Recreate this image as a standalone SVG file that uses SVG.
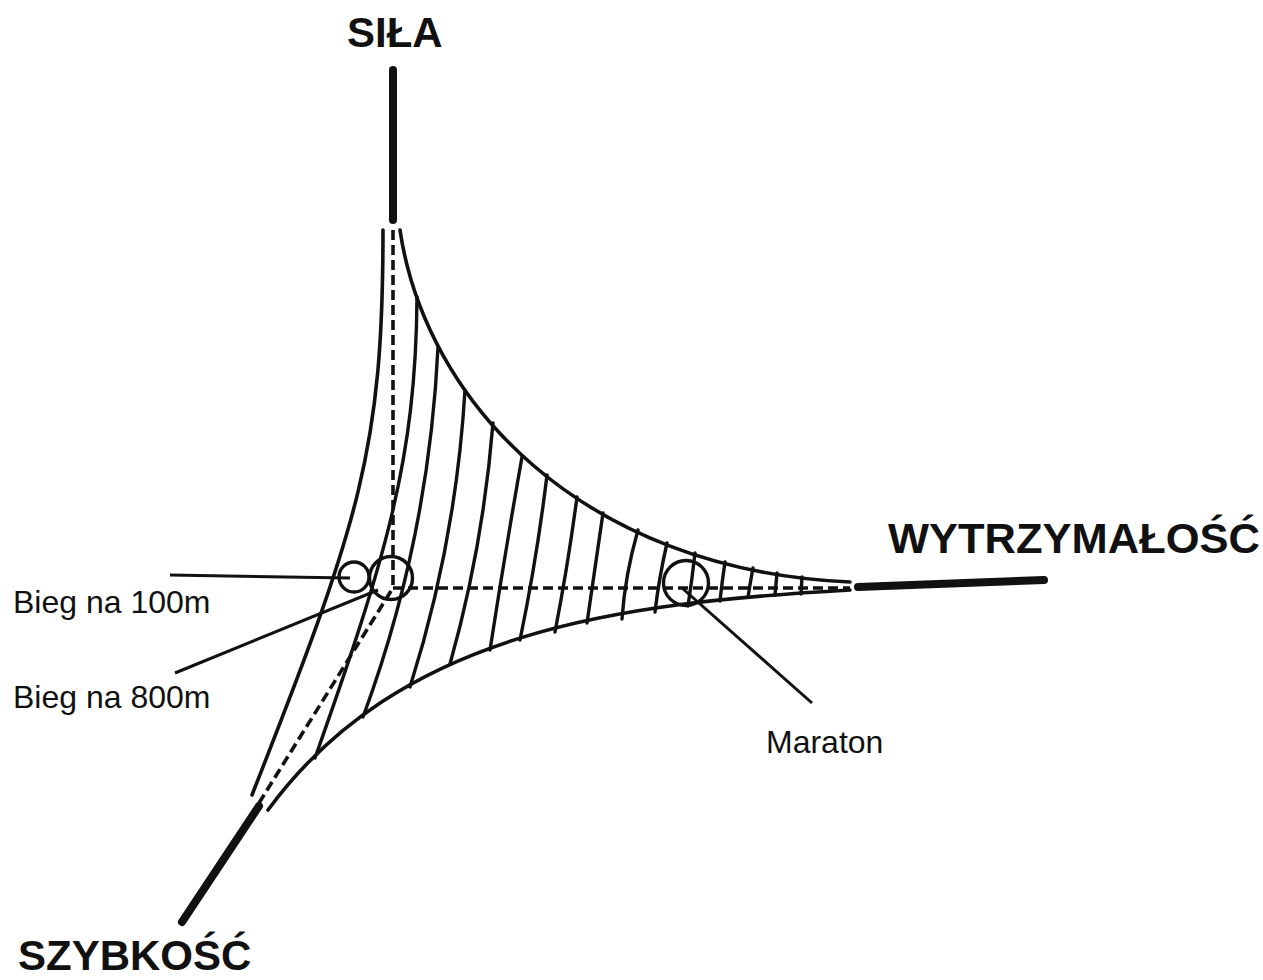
<svg xmlns="http://www.w3.org/2000/svg" width="1263" height="980" viewBox="0 0 1263 980">
  <style>
    .edge { fill: none; stroke: #111; stroke-width: 3.6; stroke-linecap: round; }
    .hatch { fill: none; stroke: #111; stroke-width: 3.4; stroke-linecap: round; }
    .dash { fill: none; stroke: #111; stroke-width: 3.6; stroke-dasharray: 10 5; }
    .axis { fill: none; stroke: #111; stroke-width: 8; stroke-linecap: round; }
    .ring { fill: none; stroke: #111; stroke-width: 3.4; }
    .lead { fill: none; stroke: #111; stroke-width: 3; }
    .title { font-family: "Liberation Sans", Arial, sans-serif; font-weight: bold; font-size: 42px; fill: #111; }
    .label { font-family: "Liberation Sans", Arial, sans-serif; font-size: 32px; fill: #111; }
  </style>
  <rect width="1263" height="980" fill="#fff"/>

  <!-- three axes -->
  <g id="axis-sila">
    <line class="axis" x1="393" y1="70" x2="393" y2="220"/>
    <text class="title" x="347" y="47">SIŁA</text>
  </g>
  <g id="axis-wytrzymalosc">
    <line class="axis" x1="858" y1="587" x2="1044" y2="580"/>
    <text class="title" x="888" y="553" textLength="372" lengthAdjust="spacingAndGlyphs">WYTRZYMAŁOŚĆ</text>
  </g>
  <g id="axis-szybkosc">
    <line class="axis" x1="259" y1="806" x2="182" y2="922"/>
    <text class="title" x="18" y="970">SZYBKOŚĆ</text>
  </g>

  <!-- curved triangle -->
  <g id="region">
    <path class="edge" d="M383,230 C383,450 360,520 252,795"/>
    <path class="edge" d="M400,230 C425,400 580,570 850,582"/>
    <path class="edge" d="M850,590 C620,603 400,630 268,810"/>
  </g>

  <!-- hatching -->
  <g id="hatching">
    <path class="hatch" d="M417,297 C416,460 385,560 315,758"/>
    <path class="hatch" d="M438,347 Q429,539 363,717"/>
    <path class="hatch" d="M465,390 Q456,542 410,687"/>
    <path class="hatch" d="M493,423 Q483,547 450,664"/>
    <path class="hatch" d="M522,457 Q505,553 490,650"/>
    <path class="hatch" d="M547,475 Q537,558 520,640"/>
    <path class="hatch" d="M577,497 Q568,565 555,632"/>
    <path class="hatch" d="M603,513 Q595,568 587,623"/>
    <path class="hatch" d="M638,530 Q625,575 622,619"/>
    <path class="hatch" d="M667,543 Q659,578 655,612"/>
    <path class="hatch" d="M695,553 Q692,580 688,606"/>
    <path class="hatch" d="M725,562 Q722,582 720,601"/>
    <path class="hatch" d="M753,568 Q750,584 748,597"/>
    <path class="hatch" d="M777,573 L775,595"/>
    <path class="hatch" d="M802,577 L801,594"/>
  </g>

  <!-- dashed axis projections -->
  <g id="projections">
    <line class="dash" x1="393" y1="230" x2="393" y2="588"/>
    <line class="dash" x1="393" y1="588" x2="850" y2="588"/>
    <line class="dash" x1="391" y1="591" x2="259" y2="803"/>
  </g>

  <!-- marked events -->
  <g id="bieg-100">
    <circle class="ring" cx="354" cy="577" r="15"/>
    <line class="lead" x1="170" y1="575" x2="350" y2="578"/>
    <text class="label" x="13" y="613">Bieg na 100m</text>
  </g>
  <g id="bieg-800">
    <circle class="ring" cx="391" cy="578" r="21.5"/>
    <line class="lead" x1="175" y1="673" x2="378" y2="590"/>
    <text class="label" x="13" y="708">Bieg na 800m</text>
  </g>
  <g id="maraton">
    <circle class="ring" cx="686" cy="583" r="22.5"/>
    <line class="lead" x1="682" y1="588" x2="812" y2="703"/>
    <text class="label" x="766" y="753">Maraton</text>
  </g>
</svg>
